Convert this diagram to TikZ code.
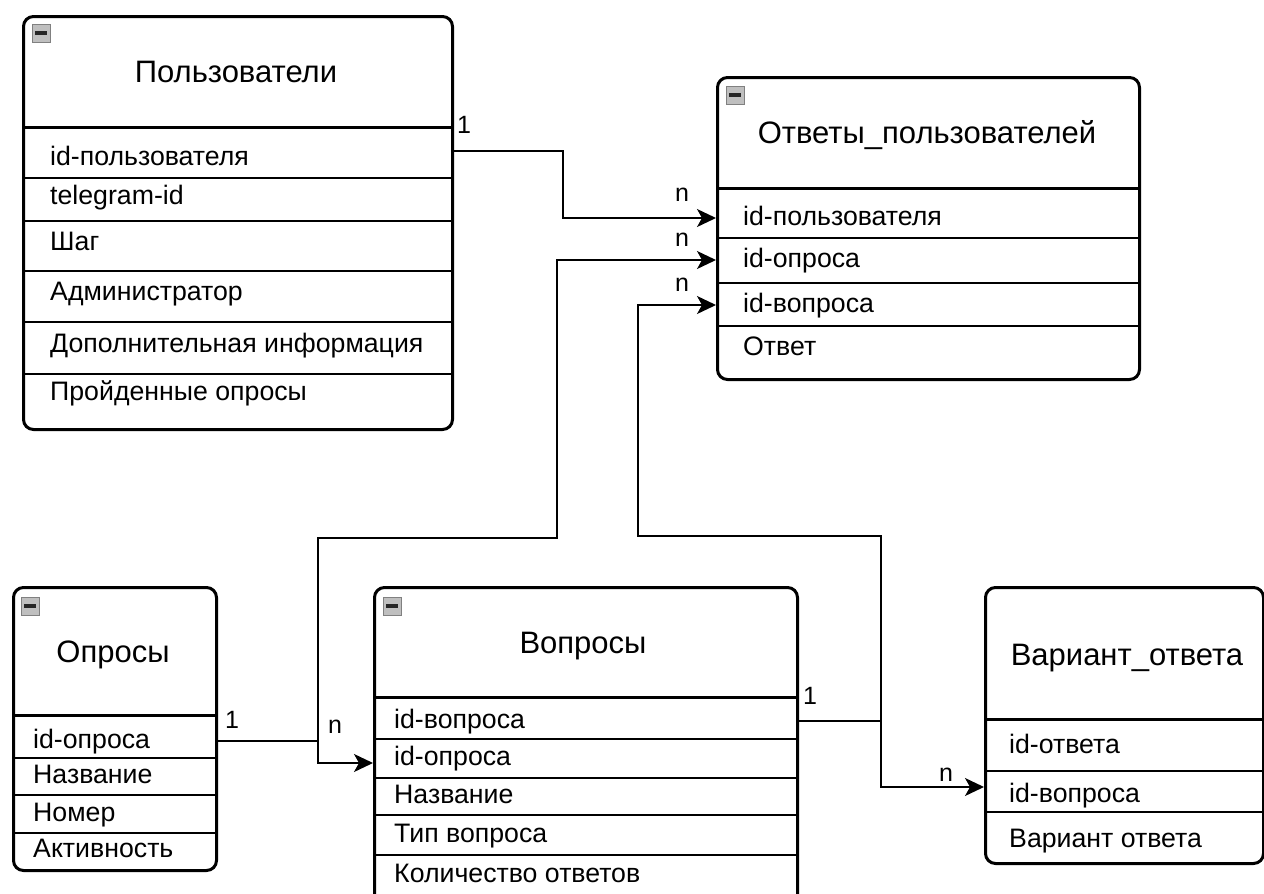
\documentclass[tikz,border=0pt]{standalone}
\usepackage{fontspec}
\setmainfont{Liberation Sans}
\usetikzlibrary{arrows.meta}

\tikzset{
	tbl/.style={draw, line width=3pt, rounded corners=10pt, inner sep=0pt, anchor=north west},
	ttl/.style={font=\fontsize{31}{36}\selectfont, anchor=base, inner sep=0pt},
	row/.style={font=\fontsize{26.7}{31}\selectfont, anchor=west, inner ysep=0pt, inner xsep=#1, text height=19pt, text depth=5pt},
	row/.default=26pt,
	hline/.style={line width=3pt},
	rline/.style={line width=1.8pt},
	conn/.style={line width=1.5pt, -{Stealth[length=19pt, width=18pt, inset=5pt]}},
	card/.style={font=\fontsize{25}{29}\selectfont, inner sep=0pt},
	icon/.style={draw=black!50, fill=black!25, line width=0.8pt, minimum size=18pt, inner sep=0pt,
		path picture={\draw[black!85, line width=3.2pt] ([xshift=3pt]path picture bounding box.west) -- ([xshift=-3pt]path picture bounding box.east);}}
}

\begin{document}
\begin{tikzpicture}[x=1pt, y=-1pt]
					\path[use as bounding box, clip] (0,0) rectangle (1264,894);

					\node[tbl, minimum width=429pt, minimum height=413pt] (users) at (22,15) {};
					\node[icon] (usersicon) at (41,33) {};
					\node[ttl] (userstitle) at (236,82) {Пользователи};
					\draw[hline] (22,127) -- (451,127);
					\foreach \y in {178,221,271,322,374} \draw[rline] (22,\y) -- (451,\y);
					\foreach \n/\t/\y in {u1/id-пользователя/158, u2/telegram-id/197, u3/Шаг/243, u4/Администратор/293, u5/Дополнительная информация/345, u6/Пройденные опросы/393} {
						\node[row=28pt] (\n) at (22,\y) {\t};
					}

					\node[tbl, minimum width=422pt, minimum height=302pt] (ans) at (716,76) {};
					\node[icon] (ansicon) at (735,95) {};
					\node[ttl] (anstitle) at (927,143) {Ответы\_пользователей};
					\draw[hline] (716,188) -- (1138,188);
					\foreach \y in {238,283,326} \draw[rline] (716,\y) -- (1138,\y);
					\foreach \n/\t/\y in {a1/id-пользователя/218, a2/id-опроса/260, a3/id-вопроса/305, a4/Ответ/348} {
						\node[row=27pt] (\n) at (716,\y) {\t};
					}

					\node[tbl, minimum width=203pt, minimum height=283pt] (polls) at (12,586) {};
					\node[icon] (pollsicon) at (30,606) {};
					\node[ttl] (pollstitle) at (113,662) {Опросы};
					\draw[hline] (12,715) -- (215,715);
					\foreach \y in {758,795,833} \draw[rline] (12,\y) -- (215,\y);
					\foreach \n/\t/\y in {p1/id-опроса/741, p2/Название/776, p3/Номер/814, p4/Активность/850} {
						\node[row=21pt] (\n) at (12,\y) {\t};
					}

					\node[tbl, minimum width=423pt, minimum height=320pt] (qst) at (373,586) {};
					\node[icon] (qsticon) at (392,606) {};
					\node[ttl] (qsttitle) at (583,653) {Вопросы};
					\draw[hline] (373,697) -- (796,697);
					\foreach \y in {739,778,815,855} \draw[rline] (373,\y) -- (796,\y);
					\foreach \n/\t/\y in {q1/id-вопроса/721, q2/id-опроса/758, q3/Название/796, q4/Тип вопроса/835, q5/Количество ответов/875} {
						\node[row=21pt] (\n) at (373,\y) {\t};
					}

					\node[tbl, minimum width=278pt, minimum height=276pt] (var) at (984,586) {};
					\node[ttl] (vartitle) at (1127,665) {Вариант\_ответа};
					\draw[hline] (984,719) -- (1262,719);
					\foreach \y in {771,812} \draw[rline] (984,\y) -- (1262,\y);
					\foreach \n/\t/\y in {v1/id-ответа/746, v2/id-вопроса/795, v3/Вариант ответа/840} {
						\node[row=25pt] (\n) at (984,\y) {\t};
					}

					\draw[conn] ([yshift=7pt]u1 -| users.east) -- ++(109,0) |- (a1 -| ans.west);
					\draw[conn] (p1 -| polls.east) -- ++(100,0) coordinate (pj) |- ([yshift=-5pt]q2 -| qst.west);
					\draw[conn] (pj) |- (557,538) |- (a2 -| ans.west);
					\draw[conn] (q1 -| qst.east) -- ++(82,0) coordinate (qj) |- ([yshift=8pt]v2 -| var.west);
					\draw[conn] (qj) |- (638,536) |- (a3 -| ans.west);

					\foreach \n/\t/\x/\y in {c1/1/464/125, c2/n/682/195, c3/n/682/240, c4/n/682/285, c5/1/232/720, c6/n/335/727, c7/1/810/696, c8/n/946/775} {
						\node[card] (\n) at (\x,\y) {\t};
					}
				\end{tikzpicture}
\end{document}
